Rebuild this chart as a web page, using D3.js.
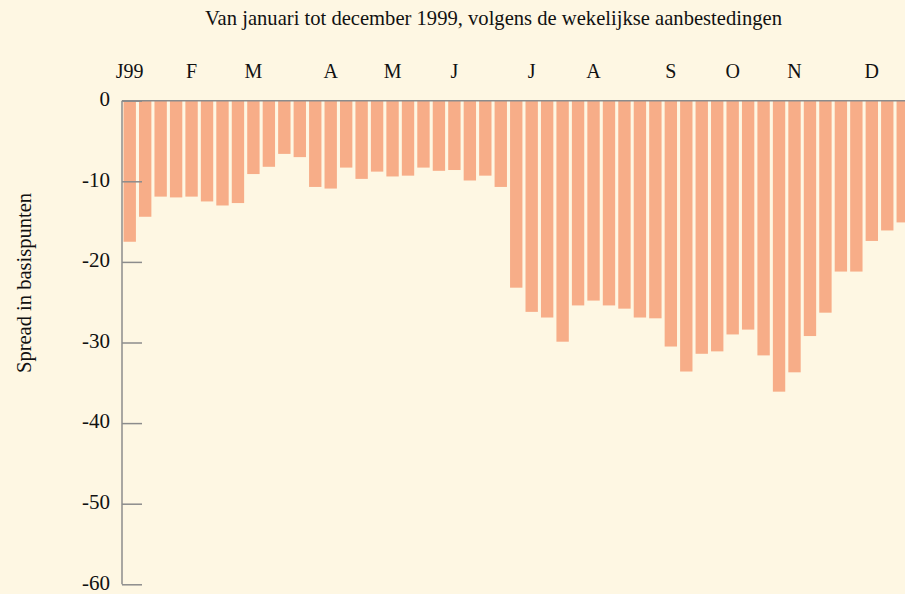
<!DOCTYPE html>
<html>
<head>
<meta charset="utf-8">
<script src="https://cdn.jsdelivr.net/npm/d3@7"></script>
<style>
  body { margin: 0; background: #fef7e3; }
  svg { display: block; }
  text { font-family: "Liberation Serif", "DejaVu Serif", serif; fill: #111; }
</style>
</head>
<body>
<div id="chart"></div>
<script>
// weekly spread (basispunten), week 1 .. 51 of 1999
var spread = [
  -17.5, -14.4, -11.9, -12.0, -11.9, -12.5, -13.0, -12.7, -9.1, -8.2,
  -6.6, -7.0, -10.7, -10.9, -8.3, -9.7, -8.8, -9.4, -9.3, -8.3,
  -8.7, -8.6, -9.9, -9.3, -10.7, -23.2, -26.2, -26.9, -29.9, -25.4,
  -24.8, -25.4, -25.8, -26.9, -27.0, -30.5, -33.6, -31.4, -31.1, -29.0,
  -28.4, -31.6, -36.1, -33.7, -29.2, -26.3, -21.2, -21.2, -17.4, -16.1,
  -15.1
];

// month labels and the week they sit above
var monthLabels = ["J99", "F", "M", "A", "M", "J", "J", "A", "S", "O", "N", "D"];
var monthWeeks  = [0, 4, 8, 13, 17, 21, 26, 30, 35, 39, 43, 48];

var yTicks = [0, -10, -20, -30, -40, -50, -60];

var title = "Van januari tot december 1999, volgens de wekelijkse aanbestedingen";
var yTitle = "Spread in basispunten";

var W = 905, H = 594;
var svg = d3.select("#chart").append("svg")
    .attr("width", W)
    .attr("height", H);

svg.append("rect")
    .attr("width", W)
    .attr("height", H)
    .attr("fill", "#fef7e3");

var x0 = 122;
var step = 15.46;
var x = d3.scaleBand()
    .domain(d3.range(spread.length))
    .range([x0, x0 + step * spread.length])
    .paddingInner(0.2)
    .paddingOuter(0.1);

var y = d3.scaleLinear()
    .domain([-60, 0])
    .range([584.3, 100.7]);

// bars
svg.append("g").selectAll("rect")
    .data(spread)
    .enter().append("rect")
    .attr("x", function(d, i) { return x(i); })
    .attr("y", y(0))
    .attr("width", x.bandwidth())
    .attr("height", function(d) { return y(d) - y(0); })
    .attr("fill", "#f7ad88");

// zero line
svg.append("line")
    .attr("x1", x0)
    .attr("x2", W)
    .attr("y1", y(0))
    .attr("y2", y(0))
    .attr("stroke", "#8c8c8c")
    .attr("stroke-width", 1.5);

// y axis, ticks pointing into the plot
var yAxis = d3.axisRight(y)
    .tickValues(yTicks)
    .tickSize(20)
    .tickFormat("");

var ag = svg.append("g")
    .attr("transform", "translate(" + x0 + ",0)")
    .call(yAxis);
ag.select(".domain").remove();
ag.selectAll(".tick line")
    .attr("stroke", "#8c8c8c")
    .attr("stroke-width", 1.5);

svg.append("line")
    .attr("x1", x0)
    .attr("x2", x0)
    .attr("y1", y(0))
    .attr("y2", y(-60))
    .attr("stroke", "#8c8c8c")
    .attr("stroke-width", 1.5);

svg.append("g").selectAll("text")
    .data(yTicks)
    .enter().append("text")
    .attr("x", 110)
    .attr("y", function(d) { return y(d) - 2; })
    .attr("dy", "0.35em")
    .attr("text-anchor", "end")
    .style("font-size", "21px")
    .text(function(d) { return d; });

// month labels
svg.append("g").selectAll("text")
    .data(monthLabels)
    .enter().append("text")
    .attr("x", function(d, i) { return x(monthWeeks[i]) + x.bandwidth() / 2; })
    .attr("y", 78)
    .attr("text-anchor", "middle")
    .style("font-size", "20px")
    .text(function(d) { return d; });

// titles (condensed face in the original, so squeeze to its width)
svg.append("text")
    .attr("x", 205)
    .attr("y", 25)
    .attr("textLength", 577)
    .attr("lengthAdjust", "spacingAndGlyphs")
    .style("font-size", "21px")
    .text(title);

svg.append("text")
    .attr("transform", "translate(31,373) rotate(-90)")
    .attr("textLength", 180)
    .attr("lengthAdjust", "spacingAndGlyphs")
    .style("font-size", "21px")
    .text(yTitle);
</script>
</body>
</html>
